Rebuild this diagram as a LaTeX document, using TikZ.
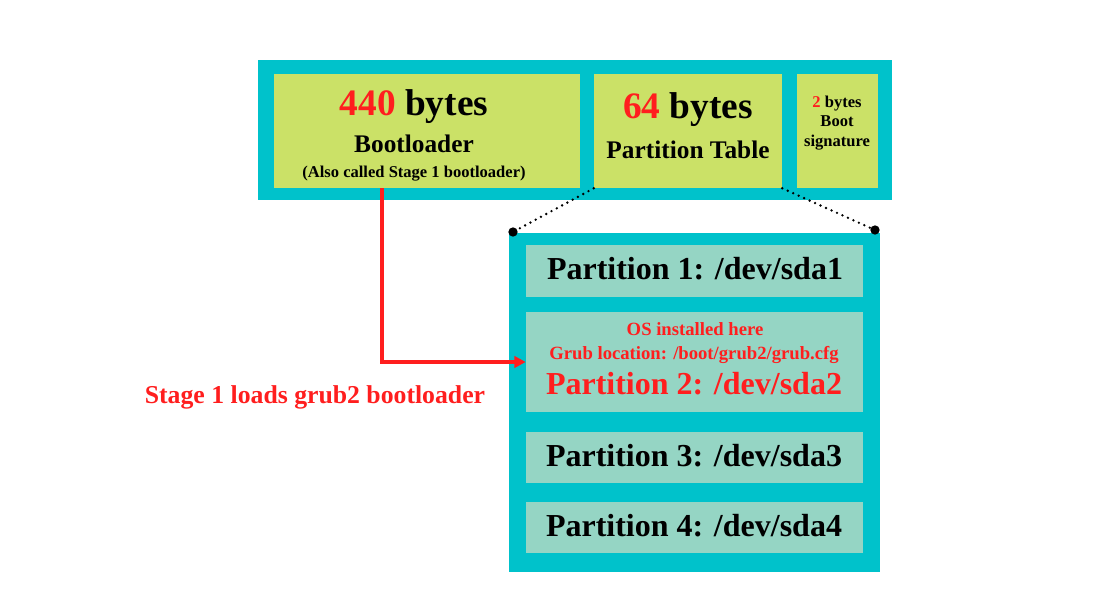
\documentclass[tikz,border=0pt]{standalone}
\usepackage{fontspec}
\setmainfont{Liberation Serif}
\usetikzlibrary{arrows.meta}

\definecolor{mbrteal}{RGB}{0,194,203}
\definecolor{bootgreen}{RGB}{203,225,103}
\definecolor{partmint}{RGB}{149,213,196}
\definecolor{grubred}{RGB}{255,30,30}

\begin{document}
\begin{tikzpicture}[x=0.75pt,y=0.75pt,yscale=-1,xscale=1,
  greenbox/.style={fill=bootgreen, draw=none, inner sep=0pt, minimum height=85.5pt},
  partbox/.style={fill=partmint, draw=none, inner sep=0pt, minimum width=252.75pt},
  txt/.style={inner sep=0pt, anchor=base},
  bigtext/.style={txt, font=\fontsize{28}{30}\selectfont\bfseries},
  midtext/.style={txt, font=\fontsize{19}{21}\selectfont\bfseries},
  smalltext/.style={txt, font=\fontsize{12.4}{14}\selectfont\bfseries},
  partext/.style={txt, font=\fontsize{24}{26}\selectfont\bfseries},
  notetext/.style={txt, font=\fontsize{14}{16}\selectfont\bfseries, text=grubred},
  dotline/.style={line width=2pt, dash pattern=on 0pt off 4.5pt, line cap=round},
  corner/.style={circle, fill=black, inner sep=0pt, minimum size=7pt},
  loadline/.style={grubred, line width=2.3pt, -{Triangle[length=8.5pt,width=8.5pt]}}
]
\useasboundingbox (0,0) rectangle (1100,600);

%Shape: Rectangle [MBR frame]
\fill[mbrteal] (258,60) rectangle (892,200);
%Shape: Rectangle [partition frame]
\fill[mbrteal] (509,233) rectangle (880,572);

%Shape: Rectangle [MBR parts]
\node[greenbox, minimum width=229.5pt] (boot) at (427,131) {};
\node[greenbox, minimum width=141pt] (ptab) at (688,131) {};
\node[greenbox, minimum width=60.75pt] (sig) at (837.5,131) {};

%Shape: Rectangle [partitions]
\node[partbox, minimum height=39pt] (p1) at (694.5,271) {};
\node[partbox, minimum height=75pt] (p2) at (694.5,362) {};
\node[partbox, minimum height=38.25pt] (p3) at (694.5,457.5) {};
\node[partbox, minimum height=38.25pt] (p4) at (694.5,527.5) {};

%Text [bootloader]
\node[bigtext] (t440) at (414,115) {\textcolor{grubred}{440} bytes};
\node[midtext] (tboot) at (414,152) {Bootloader};
\node[smalltext] (talso) at (414,177) {(Also called Stage 1 bootloader)};
%Text [partition table]
\node[bigtext] (t64) at (688,118) {\textcolor{grubred}{64} bytes};
\node[midtext] (tptab) at (688,158) {Partition Table};
%Text [boot signature]
\node[smalltext] (t2) at (837,107) {\textcolor{grubred}{2} bytes};
\node[smalltext] (tbootsig) at (837,126) {Boot};
\node[smalltext] (tsig) at (837,146) {signature};

%Text [partitions]
\node[partext] (tp1) at (695,279) {Partition 1: /dev/sda1};
\node[notetext] (tos) at (695,335) {OS installed here};
\node[notetext] (tgrub) at (694,359) {Grub location: /boot/grub2/grub.cfg};
\node[partext, text=grubred] (tp2) at (694,394) {Partition 2: /dev/sda2};
\node[partext] (tp3) at (694,466) {Partition 3: /dev/sda3};
\node[partext] (tp4) at (694,536) {Partition 4: /dev/sda4};

%Text [stage 1]
\node[txt, font=\fontsize{19.3}{21}\selectfont\bfseries, text=grubred] (tstage) at (315,403) {Stage 1 loads grub2 bootloader};

%Straight Lines [zoom on partition table]
\node[corner] (dl) at (513,232) {};
\node[corner] (dr) at (875,230) {};
\draw[dotline] (ptab.south west) -- (dl);
\draw[dotline] (ptab.south east) -- (dr);

%Straight Lines [stage 1 loads grub2]
\coordinate (tap) at (382,188);
\draw[loadline] (tap) |- (p2.west);

\end{tikzpicture}
\end{document}
